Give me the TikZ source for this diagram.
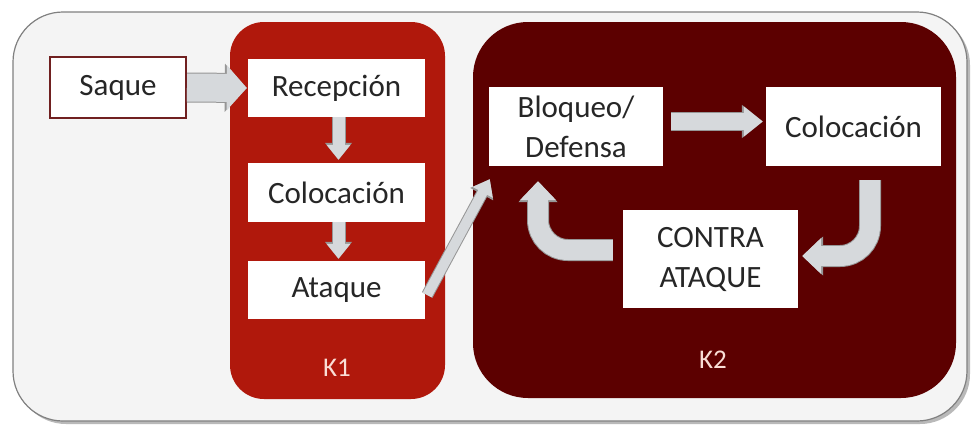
\documentclass[tikz,border=0pt]{standalone}
\usepackage{fontspec}
\setmainfont{Carlito}
\usetikzlibrary{arrows.meta}
\definecolor{fondo}{RGB}{244,244,244}
\definecolor{borde}{RGB}{128,128,128}
\definecolor{kuno}{RGB}{176,24,12}
\definecolor{kdos}{RGB}{92,0,0}
\definecolor{saqueborde}{RGB}{112,32,32}
\definecolor{flecha}{RGB}{214,217,220}
\definecolor{flechaborde}{RGB}{150,150,150}
\definecolor{texto}{RGB}{38,38,38}
\definecolor{etiqueta}{RGB}{250,222,214}

\begin{document}
\begin{tikzpicture}[x=1pt,y=-1pt,
    caja/.style={fill=white, text=texto, inner sep=0pt, align=center,
      font=\fontsize{31}{40}\selectfont},
    fase/.style={text=etiqueta, font=\fontsize{27}{32}\selectfont},
    flechaancha/.style={draw=flecha, line width=28pt, -{Triangle[width=44pt,length=20pt]},
      preaction={draw=flechaborde, line width=30pt, -{Triangle[width=47pt,length=22pt]}}},
    flechabaja/.style={draw=flecha, line width=12pt, -{Triangle[width=23pt,length=15pt]},
      preaction={draw=flechaborde, line width=14pt, -{Triangle[width=26pt,length=17pt]}}},
    flechafina/.style={draw=flecha, line width=10pt, -{Triangle[width=22pt,length=15pt]},
      preaction={draw=flechaborde, line width=12pt, -{Triangle[width=25pt,length=17pt]}}},
    flechamedia/.style={draw=flecha, line width=17pt, -{Triangle[width=29pt,length=19pt]},
      preaction={draw=flechaborde, line width=19pt, -{Triangle[width=32pt,length=21pt]}}},
    flechacurva/.style={draw=flecha, line width=20pt, rounded corners=30pt,
      -{Triangle[width=35pt,length=19pt]},
      preaction={draw=flechaborde, line width=22pt, -{Triangle[width=38pt,length=21pt]}}}]
    \useasboundingbox (0,0) rectangle (972,426);

    \fill[gray!55, rounded corners=50pt] (16,15) rectangle (970,424);
    \draw[borde, fill=fondo, line width=1.2pt, rounded corners=50pt] (13,12) rectangle (967,421);
    \fill[kuno, rounded corners=34pt] (230,22) rectangle (445,399);
    \fill[kdos, rounded corners=55pt] (473,22) rectangle (956,398);

    \node[caja, draw=saqueborde, line width=2pt, minimum width=136pt, minimum height=61pt]
        (saque) at (118,87.5) {Saque};
    \node[caja, minimum width=177pt, minimum height=58pt] (recep) at (336.5,88) {Recepción};
    \node[caja, minimum width=177pt, minimum height=59pt] (colocA) at (336.5,192.5) {Colocación};
    \node[caja, minimum width=177pt, minimum height=58pt] (ataque) at (336.5,290) {Ataque};
    \node[fase] (kuno) at (337,368) {K1};

    \node[caja, minimum width=174pt, minimum height=79pt] (bloqueo) at (576,126.5) {Bloqueo/\\Defensa};
    \node[caja, minimum width=175pt, minimum height=79pt] (colocB) at (853.5,126.5) {Colocación};
    \node[caja, minimum width=175pt, minimum height=98pt] (contra) at (710.5,259) {CONTRA\\ATAQUE};
    \node[fase] (kdos) at (713,360) {K2};

    \draw[flechaancha] (saque.east) -- ([xshift=-1pt]recep.west);
    \draw[flechabaja] ([xshift=2pt]recep.south) -- ([xshift=2pt,yshift=3pt]colocA.north);
    \draw[flechabaja] ([xshift=2pt]colocA.south) -- ([xshift=2pt,yshift=2pt]ataque.north);
    \draw[flechafina] ([xshift=2pt,yshift=-5pt]ataque.east) -- ([xshift=1pt,yshift=-13pt]bloqueo.south west);
    \draw[flechamedia] ([xshift=8pt,yshift=5pt]bloqueo.east) -- ([xshift=-3pt,yshift=5pt]colocB.west);
    \draw[flechacurva] ([xshift=16.5pt,yshift=-14pt]colocB.south) |- ([xshift=4pt,yshift=3pt]contra.east);
    \draw[flechacurva] ([xshift=-10pt,yshift=9pt]contra.west) -| ([xshift=-38pt,yshift=-15pt]bloqueo.south);
\end{tikzpicture}
\end{document}
